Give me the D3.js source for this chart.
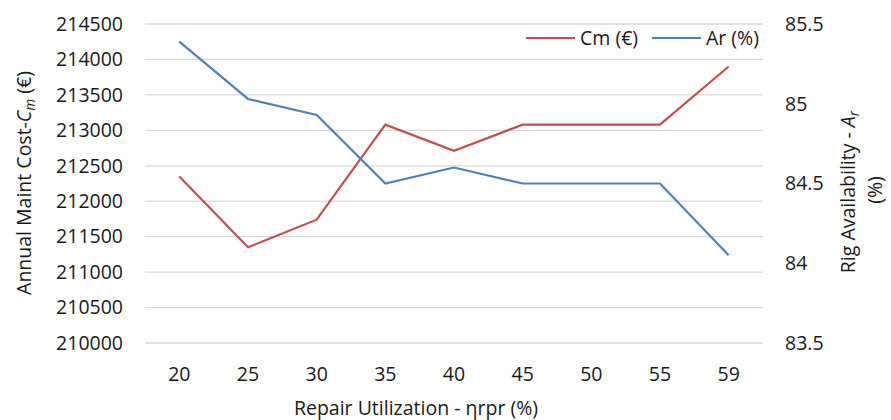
<!DOCTYPE html>
<html>
<head>
<meta charset="utf-8">
<script src="https://cdn.jsdelivr.net/npm/d3@7"></script>
<style>
  body { margin: 0; background: #fff; }
  svg { font-family: "Open Sans", sans-serif; }
</style>
</head>
<body>
<svg id="chart" width="891" height="420"></svg>
<script>
// data
var categories = ["20", "25", "30", "35", "40", "45", "50", "55", "59"];
var costValues = [212350, 211350, 211740, 213080, 212710, 213080, 213080, 213080, 213900];
var availValues = [85.39, 85.03, 84.93, 84.5, 84.6, 84.5, 84.5, 84.5, 84.05];
var leftTicks = [210000, 210500, 211000, 211500, 212000, 212500, 213000, 213500, 214000, 214500];
var rightTicks = [83.5, 84, 84.5, 85, 85.5];

var svg = d3.select("#chart");
var margin = { top: 24, right: 128, bottom: 77, left: 145 };
var width = 891 - margin.left - margin.right,
    height = 420 - margin.top - margin.bottom;

var g = svg.append("g").attr("transform", `translate(${margin.left},${margin.top})`);

var x = d3.scaleBand().domain(categories).range([0, width]);
var yL = d3.scaleLinear().domain([210000, 214500]).range([height, 0]);
var yR = d3.scaleLinear().domain([83.5, 85.5]).range([height, 0]);

// gridlines
g.append("g")
    .selectAll("line")
    .data(leftTicks)
    .join("line")
    .attr("x1", 0)
    .attr("x2", width)
    .attr("y1", d => yL(d))
    .attr("y2", d => yL(d))
    .attr("stroke", "#d9d9d9")
    .attr("stroke-width", 1.3);

var fs = 19.5;
var ink = "#1a1a1a";

// left axis
var leftAxis = g.append("g")
    .call(d3.axisLeft(yL).tickValues(leftTicks).tickSize(0).tickPadding(22).tickFormat(d3.format("d")));
leftAxis.select(".domain").remove();
leftAxis.selectAll("text").attr("font-size", fs).attr("fill", ink).attr("font-family", "Open Sans");

// right axis
var rightAxis = g.append("g")
    .attr("transform", `translate(${width},0)`)
    .call(d3.axisRight(yR).tickValues(rightTicks).tickSize(0).tickPadding(22).tickFormat(d => d));
rightAxis.select(".domain").remove();
rightAxis.selectAll("text").attr("font-size", fs).attr("fill", ink).attr("font-family", "Open Sans");

// x axis
var xAxis = g.append("g")
    .attr("transform", `translate(0,${height})`)
    .call(d3.axisBottom(x).tickSize(0).tickPadding(24));
xAxis.select(".domain").remove();
xAxis.selectAll("text").attr("font-size", fs).attr("fill", ink).attr("font-family", "Open Sans");

// lines
var cx = d => x(d) + x.bandwidth() / 2;
var costLine = d3.line().x((d, i) => cx(categories[i])).y(d => yL(d));
var availLine = d3.line().x((d, i) => cx(categories[i])).y(d => yR(d));

g.append("path")
    .datum(costValues)
    .attr("d", costLine)
    .attr("fill", "none")
    .attr("stroke", "#c0504d")
    .attr("stroke-width", 2.2);

g.append("path")
    .datum(availValues)
    .attr("d", availLine)
    .attr("fill", "none")
    .attr("stroke", "#4f81bd")
    .attr("stroke-width", 2.2);

// legend
var legendItems = [
    { label: "Cm (€)", color: "#c0504d", x: 526 },
    { label: "Ar (%)", color: "#4f81bd", x: 652 }
];
var legend = svg.append("g");
legendItems.forEach(function (it) {
    legend.append("line")
        .attr("x1", it.x).attr("x2", it.x + 49)
        .attr("y1", 38).attr("y2", 38)
        .attr("stroke", it.color).attr("stroke-width", 2.2);
    legend.append("text")
        .attr("x", it.x + 54).attr("y", 38)
        .attr("dy", "0.35em")
        .attr("font-size", fs)
        .attr("fill", ink)
        .text(it.label);
});

// axis titles
var lt = svg.append("text")
    .attr("transform", "translate(31,183) rotate(-90)")
    .attr("text-anchor", "middle")
    .attr("font-size", fs)
    .attr("fill", ink);
lt.append("tspan").text("Annual Maint Cost-");
lt.append("tspan").attr("font-style", "italic").text("C");
lt.append("tspan").attr("font-style", "italic").attr("font-size", fs * 0.7).attr("dy", 4).text("m");
lt.append("tspan").attr("dy", -4).text(" (€)");

var rt = svg.append("text")
    .attr("transform", "translate(855,192) rotate(-90)")
    .attr("text-anchor", "middle")
    .attr("font-size", fs)
    .attr("fill", ink);
rt.append("tspan").text("Rig Availability - ");
rt.append("tspan").attr("font-style", "italic").text("A");
rt.append("tspan").attr("font-style", "italic").attr("font-size", fs * 0.7).attr("dy", 4).text("r");

svg.append("text")
    .attr("transform", "translate(882,190) rotate(-90)")
    .attr("text-anchor", "middle")
    .attr("font-size", fs)
    .attr("fill", ink)
    .text("(%)");

svg.append("text")
    .attr("x", 416)
    .attr("y", 415)
    .attr("text-anchor", "middle")
    .attr("font-size", fs)
    .attr("fill", ink)
    .text("Repair Utilization - ηrpr (%)");
</script>
</body>
</html>
